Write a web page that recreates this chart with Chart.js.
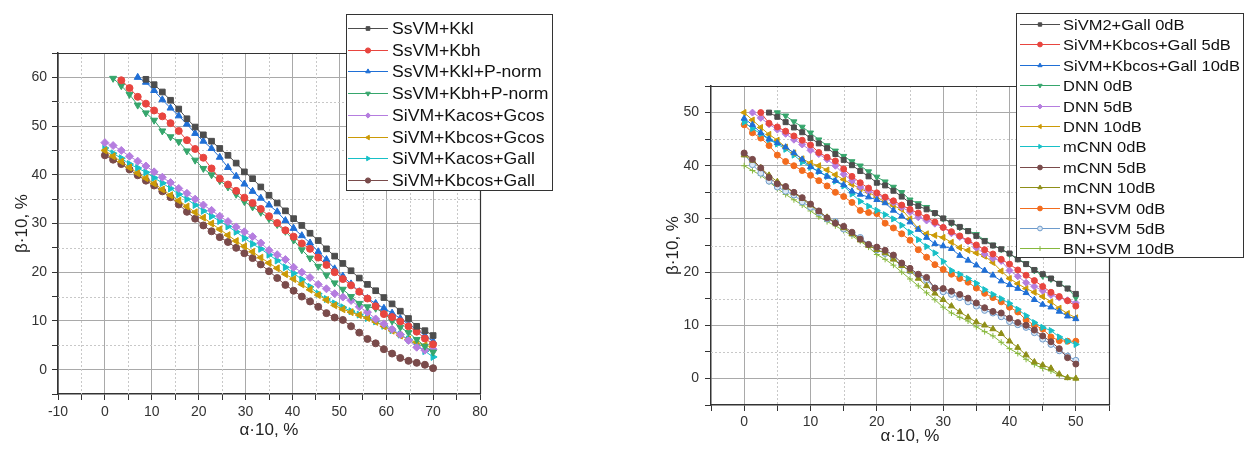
<!DOCTYPE html>
<html>
<head>
<meta charset="utf-8">
<script src="https://cdn.jsdelivr.net/npm/chart.js"></script>
<style>
  html, body { margin: 0; padding: 0; background: #fff; }
  #wrap { position: relative; width: 1247px; height: 453px; overflow: hidden; }
  canvas { position: absolute; top: 0; }
  #leftChart { left: 0; }
  #rightChart { left: 620px; }
</style>
</head>
<body>
<div id="wrap">
  <canvas id="leftChart" width="620" height="453"></canvas>
  <canvas id="rightChart" width="627" height="453"></canvas>
</div>
<script>
// ---- left panel: alpha*10 values and beta*10 per method ----
const leftAlpha = [0, 1.75, 3.5, 5.25, 7, 8.75, 10.5, 12.25, 14, 15.75, 17.5, 19.25, 21, 22.75, 24.5, 26.25, 28, 29.75, 31.5, 33.25, 35, 36.75, 38.5, 40.25, 42, 43.75, 45.5, 47.25, 49, 50.75, 52.5, 54.25, 56, 57.75, 59.5, 61.25, 63, 64.75, 66.5, 68.25, 70];

const ssvmKkl = [null, null, null, null, null, 59.6, 58.5, 57.0, 55.3, 53.5, 51.5, 49.8, 48.2, 46.9, 45.4, 44.0, 42.4, 40.6, 39.2, 37.5, 35.8, 34.2, 32.6, 31.0, 29.6, 28.0, 26.5, 24.8, 23.3, 21.8, 20.3, 18.8, 17.5, 16.2, 14.8, 13.5, 12.0, 10.5, 8.9, 8.0, 7.0];
const ssvmKbh = [null, null, 59.4, 57.8, 56.0, 54.6, 53.2, 52.0, 50.6, 49.0, 47.1, 45.3, 43.5, 41.3, 39.2, 38.0, 36.7, 35.3, 34.2, 33.0, 31.5, 30.1, 28.6, 27.3, 25.9, 24.8, 23.0, 21.5, 20.0, 18.6, 17.3, 16.0, 14.6, 13.0, 11.4, 10.8, 9.9, 8.9, 7.8, 6.4, 5.2];
const ssvmKklP = [null, null, null, null, 60.0, 59.0, 57.3, 55.4, 53.7, 52.1, 50.4, 48.5, 46.9, 45.4, 43.6, 41.5, 39.7, 38.1, 36.6, 35.2, 33.8, 32.4, 30.6, 29.0, 27.5, 26.0, 24.2, 22.6, 20.7, 19.2, 17.6, 16.0, 14.6, 13.6, 12.6, 11.6, 10.5, 9.3, 8.3, 7.0, 5.8];
const ssvmKbhP = [null, 59.8, 58.3, 56.5, 54.3, 52.7, 51.2, 49.0, 47.8, 46.8, 44.9, 43.0, 41.3, 40.0, 38.8, 37.5, 36.0, 34.5, 33.4, 32.3, 31.0, 29.8, 28.4, 26.6, 24.6, 22.9, 21.2, 19.4, 17.8, 16.5, 15.0, 13.6, 12.9, 12.6, 11.6, 10.0, 8.7, 7.6, 6.2, 4.8, 3.6];
const sivmKacosGcos = [46.6, 46.0, 45.0, 43.8, 42.8, 41.8, 40.6, 39.5, 38.4, 37.2, 36.2, 35.0, 33.8, 32.7, 31.5, 30.4, 29.3, 28.3, 27.3, 26.0, 24.5, 23.6, 22.6, 21.0, 20.0, 18.9, 17.5, 16.6, 15.6, 14.9, 14.2, 12.9, 11.8, 10.4, 9.4, 8.3, 7.2, 6.0, 4.6, 4.0, 4.2];
const sivmKbcosGcos = [45.0, 43.8, 42.7, 41.5, 40.3, 39.3, 38.2, 37.0, 35.8, 34.7, 33.5, 32.3, 31.2, 30.0, 28.8, 27.6, 26.4, 25.3, 24.2, 23.0, 21.9, 20.8, 19.6, 18.6, 17.5, 16.4, 15.3, 14.3, 13.2, 12.4, 11.8, 11.2, 10.6, 9.8, 8.9, 8.0, 7.0, 6.2, 5.6, 5.0, 4.6];
const sivmKacosGall = [45.5, 44.4, 43.4, 42.2, 41.4, 40.5, 39.4, 38.3, 37.2, 36.0, 35.0, 33.8, 32.6, 31.5, 30.5, 29.4, 28.3, 27.0, 25.8, 24.8, 23.6, 22.4, 21.0, 19.8, 18.5, 17.0, 15.6, 14.5, 13.6, 12.8, 12.0, 11.3, 10.6, 9.9, 9.0, 8.1, 7.2, 6.2, 5.0, 3.8, 2.6];
const sivmKbcosGall = [44.0, 43.1, 42.2, 41.1, 39.9, 38.8, 37.8, 36.6, 35.4, 33.9, 32.4, 31.0, 29.6, 28.4, 27.2, 26.2, 25.0, 23.9, 22.9, 21.6, 20.2, 18.8, 17.4, 16.2, 15.0, 14.0, 12.9, 11.6, 10.7, 10.2, 8.9, 7.6, 6.3, 5.4, 4.2, 3.3, 2.4, 1.8, 1.4, 1.0, 0.3];

// ---- right panel ----
const rightAlpha = [0, 1.25, 2.5, 3.75, 5, 6.25, 7.5, 8.75, 10, 11.25, 12.5, 13.75, 15, 16.25, 17.5, 18.75, 20, 21.25, 22.5, 23.75, 25, 26.25, 27.5, 28.75, 30, 31.25, 32.5, 33.75, 35, 36.25, 37.5, 38.75, 40, 41.25, 42.5, 43.75, 45, 46.25, 47.5, 48.75, 50];

const sivm2Gall0 = [null, null, null, 50.0, 49.2, 48.2, 47.2, 46.3, 45.2, 44.2, 43.3, 42.2, 41.1, 40.1, 39.0, 38.0, 36.8, 36.3, 35.3, 34.2, 33.0, 32.4, 31.8, 31.1, 30.1, 29.3, 28.5, 27.7, 26.8, 25.8, 25.0, 24.3, 23.5, 22.4, 21.5, 20.4, 19.6, 18.8, 17.8, 16.9, 15.9];
const sivmGall5 = [null, null, 50.0, 48.0, 47.3, 46.5, 45.6, 44.8, 43.9, 42.5, 41.6, 40.9, 39.4, 38.0, 36.8, 35.8, 34.9, 34.1, 33.4, 32.6, 31.8, 31.1, 30.3, 29.4, 28.4, 27.6, 26.8, 25.9, 25.1, 24.2, 23.4, 22.4, 21.5, 20.4, 19.4, 18.4, 17.3, 16.2, 15.4, 14.6, 13.6];
const sivmGall10 = [48.9, 47.7, 46.2, 45.0, 44.3, 43.5, 42.4, 41.2, 39.8, 38.9, 38.0, 37.2, 36.4, 35.2, 34.6, 34.1, 33.6, 33.0, 31.6, 30.5, 29.4, 28.0, 26.5, 25.3, 24.9, 24.4, 23.1, 22.2, 21.3, 20.3, 19.4, 18.3, 17.6, 16.9, 16.1, 14.8, 13.9, 13.4, 12.6, 11.7, 11.2];
const dnn0 = [null, null, null, null, 50.0, 49.4, 48.3, 47.3, 46.2, 44.9, 43.8, 42.8, 41.8, 40.8, 40.0, 38.9, 37.9, 37.0, 36.0, 35.0, 33.6, 32.9, 32.2, 31.1, 30.1, 29.2, 28.4, 27.8, 27.1, 26.0, 25.1, 24.3, 23.4, 22.5, 21.6, 20.3, 19.3, 18.7, 17.9, 17.0, 15.2];
const dnn5 = [null, 50.0, 49.0, 47.8, 46.8, 46.0, 44.9, 44.0, 42.9, 42.2, 41.2, 40.0, 38.4, 37.2, 36.0, 35.2, 34.6, 33.9, 33.1, 32.2, 31.3, 30.3, 29.7, 29.1, 28.4, 27.3, 26.6, 25.8, 24.6, 23.4, 22.6, 22.1, 20.3, 19.2, 18.0, 17.3, 16.5, 15.7, 15.2, 14.7, 14.2];
const dnn10 = [50.0, 48.6, 47.2, 45.9, 44.8, 43.5, 42.4, 41.3, 40.5, 40.0, 39.2, 38.3, 37.4, 36.5, 35.7, 35.0, 34.1, 33.2, 32.5, 31.8, 30.0, 28.2, 27.2, 26.9, 26.5, 25.6, 24.6, 24.1, 23.6, 23.0, 21.8, 20.2, 18.8, 17.8, 16.9, 16.2, 15.4, 14.4, 13.2, 12.2, 11.4];
const mcnn0 = [48.2, 47.0, 46.0, 44.9, 44.1, 43.1, 42.0, 40.7, 39.7, 38.9, 38.0, 37.1, 36.2, 34.7, 33.3, 32.4, 31.6, 30.8, 30.0, 28.8, 27.5, 26.1, 24.8, 23.6, 22.0, 20.3, 19.6, 18.8, 17.9, 16.7, 15.8, 15.0, 14.1, 13.0, 11.8, 10.5, 9.6, 9.0, 7.8, 7.0, 6.4];
const mcnn5 = [42.4, 41.2, 39.6, 37.8, 36.6, 36.1, 35.0, 34.0, 32.8, 31.5, 30.2, 29.2, 28.6, 27.5, 26.2, 25.2, 24.7, 24.1, 23.2, 21.7, 20.7, 19.6, 19.0, 17.0, 16.9, 16.4, 15.8, 15.1, 14.2, 13.3, 12.6, 12.3, 11.3, 10.5, 10.0, 9.1, 8.0, 6.9, 5.6, 3.9, 2.7];
const mcnn10 = [42.0, 41.0, 39.6, 38.2, 37.0, 36.0, 34.9, 33.8, 32.6, 31.4, 30.3, 29.3, 28.3, 27.2, 26.0, 25.0, 24.2, 23.6, 22.4, 21.2, 20.2, 18.8, 17.4, 16.0, 14.8, 13.6, 12.5, 11.5, 10.6, 10.0, 9.3, 8.4, 7.0, 5.8, 4.4, 3.1, 2.5, 1.9, 0.8, 0.1, 0.0];
const bnSvm0 = [47.7, 46.2, 45.2, 43.8, 42.0, 40.8, 40.0, 39.1, 38.2, 37.2, 36.2, 35.0, 34.2, 33.1, 31.6, 31.2, 31.0, 29.2, 28.3, 27.2, 26.0, 24.2, 22.8, 21.4, 20.5, 19.6, 18.8, 18.1, 17.0, 16.0, 15.2, 14.4, 13.4, 12.5, 11.0, 10.0, 9.3, 7.8, 7.1, 7.0, 7.0];
const bnSvm5 = [42.2, 40.2, 38.6, 37.1, 36.0, 35.2, 34.5, 33.2, 32.2, 31.2, 30.0, 29.5, 28.1, 27.3, 26.5, 25.2, 24.2, 23.5, 22.6, 21.3, 20.2, 19.4, 18.5, 17.0, 16.3, 15.8, 15.2, 14.4, 13.6, 12.8, 12.3, 11.6, 10.7, 10.1, 9.6, 8.6, 7.4, 6.4, 5.2, 4.2, 3.4];
const bnSvm10 = [40.0, 39.1, 38.2, 37.0, 35.7, 34.6, 33.6, 32.6, 31.5, 30.4, 29.5, 28.7, 27.8, 26.8, 25.8, 24.7, 23.3, 22.4, 21.3, 20.0, 18.7, 17.4, 16.1, 14.8, 13.4, 12.3, 11.5, 10.8, 9.7, 8.8, 8.0, 6.8, 5.6, 4.7, 3.6, 2.6, 1.9, 1.4, 0.6, 0.2, 0.0];

const FONT = "'Liberation Sans', Arial, sans-serif";

function makeSet(label, xs, ys, color, style, radius, extra) {
  const data = xs.map((x, i) => ({ x: x, y: ys[i] })).filter(p => p.y !== null);
  return Object.assign({
    label: label,
    data: data,
    borderColor: color,
    backgroundColor: color,
    borderWidth: 1,
    pointStyle: style,
    pointRadius: radius,
    pointRotation: 0,
    pointBackgroundColor: color,
    pointBorderColor: color,
    pointBorderWidth: 1,
    tension: 0,
    fill: false
  }, extra || {});
}

// dotted minor grid + top/right frame
const minorGrid = {
  id: 'minorGrid',
  beforeDatasetsDraw(chart) {
    const { ctx, chartArea: a, scales } = chart;
    const x = scales.x, y = scales.y;
    ctx.save();
    ctx.strokeStyle = '#c8c8c8';
    ctx.lineWidth = 1;
    ctx.setLineDash([2, 2]);
    x.ticks.forEach(t => {
      if (t.value % 10 === 0) return;
      const px = Math.round(x.getPixelForValue(t.value)) + 0.5;
      if (px <= a.left + 1 || px >= a.right - 1) return;
      ctx.beginPath(); ctx.moveTo(px, a.top); ctx.lineTo(px, a.bottom); ctx.stroke();
    });
    y.ticks.forEach(t => {
      if (t.value % 10 === 0) return;
      const py = Math.round(y.getPixelForValue(t.value)) + 0.5;
      if (py <= a.top + 1 || py >= a.bottom - 1) return;
      ctx.beginPath(); ctx.moveTo(a.left, py); ctx.lineTo(a.right, py); ctx.stroke();
    });
    ctx.setLineDash([]);
    ctx.strokeStyle = '#333';
    ctx.lineWidth = 1.2;
    ctx.beginPath();
    ctx.moveTo(a.left, a.top + 0.5); ctx.lineTo(a.right + 0.5, a.top + 0.5); ctx.lineTo(a.right + 0.5, a.bottom);
    ctx.stroke();
    ctx.restore();
  }
};

// framed legend placed over the plot
const boxLegend = {
  id: 'boxLegend',
  afterDraw(chart, args, o) {
    const ctx = chart.ctx;
    ctx.save();
    ctx.fillStyle = '#fff';
    ctx.fillRect(o.x, o.y, o.w, o.h);
    ctx.strokeStyle = '#333';
    ctx.lineWidth = 1;
    ctx.strokeRect(o.x + 0.5, o.y + 0.5, o.w, o.h);
    ctx.font = o.font;
    ctx.textBaseline = 'middle';
    chart.data.datasets.forEach((ds, i) => {
      const cy = Math.round(o.firstY + i * o.rowH) + 0.5;
      ctx.strokeStyle = ds.borderColor;
      ctx.lineWidth = 1;
      ctx.beginPath(); ctx.moveTo(o.lineX0, cy); ctx.lineTo(o.lineX1, cy); ctx.stroke();
      ctx.fillStyle = ds.pointBackgroundColor;
      ctx.strokeStyle = ds.pointBorderColor;
      Chart.helpers.drawPoint(ctx, {
        pointStyle: ds.pointStyle, radius: o.marker, rotation: ds.pointRotation || 0, borderWidth: 1
      }, (o.lineX0 + o.lineX1) / 2, cy);
      // reference text is a little wider than the font, so stretch it sideways
      ctx.save();
      ctx.translate(o.textX, cy + 1);
      ctx.scale(o.stretch, 1);
      ctx.fillStyle = '#111';
      ctx.fillText(ds.label, 0, 0);
      ctx.restore();
    });
    ctx.restore();
  }
};

function axis(min, max, title, titlePad, size, labelPad, horizontal) {
  return {
    type: 'linear',
    min: min,
    max: max,
    afterFit: s => { if (horizontal) s.height = size; else s.width = size; },
    ticks: {
      stepSize: 5,
      autoSkip: false,
      maxRotation: 0,
      padding: labelPad,
      color: '#333',
      font: { family: FONT, size: 14 },
      callback: v => (v % 10 === 0 ? String(v) : '')
    },
    grid: {
      color: c => (c.tick && c.tick.value % 10 === 0) ? '#a9a9a9' : 'rgba(0,0,0,0)',
      lineWidth: 1,
      tickColor: '#333',
      tickLength: 6,
      drawTicks: true
    },
    border: { color: '#333', width: 1.5 },
    title: {
      display: true,
      text: title,
      color: '#222',
      font: { family: FONT, size: 17 },
      padding: titlePad
    }
  };
}

function baseOptions(pad, xAxis, yAxis, legendOpts) {
  return {
    responsive: false,
    animation: false,
    devicePixelRatio: 1,
    events: [],
    layout: { padding: pad },
    scales: { x: xAxis, y: yAxis },
    plugins: {
      legend: { display: false },
      tooltip: { enabled: false },
      boxLegend: legendOpts
    }
  };
}

// ---- left chart ----
const R1 = 3.5;
new Chart(document.getElementById('leftChart'), {
  type: 'line',
  data: {
    datasets: [
      makeSet('SsVM+Kkl', leftAlpha, ssvmKkl, '#4d4d4d', 'rect', R1 + 0.5),
      makeSet('SsVM+Kbh', leftAlpha, ssvmKbh, '#e8453f', 'circle', R1),
      makeSet('SsVM+Kkl+P-norm', leftAlpha, ssvmKklP, '#1f6fd6', 'triangle', R1 + 0.5),
      makeSet('SsVM+Kbh+P-norm', leftAlpha, ssvmKbhP, '#36a66c', 'triangle', R1 + 0.5, { pointRotation: 180 }),
      makeSet('SiVM+Kacos+Gcos', leftAlpha, sivmKacosGcos, '#b57ddf', 'rectRot', R1 + 0.5),
      makeSet('SiVM+Kbcos+Gcos', leftAlpha, sivmKbcosGcos, '#cc9a06', 'triangle', R1 + 0.5, { pointRotation: -90 }),
      makeSet('SiVM+Kacos+Gall', leftAlpha, sivmKacosGall, '#17c0c7', 'triangle', R1 + 0.5, { pointRotation: 90 }),
      makeSet('SiVM+Kbcos+Gall', leftAlpha, sivmKbcosGall, '#7a4b4b', 'circle', R1)
    ]
  },
  options: baseOptions(
    { left: 0, right: 140, top: 53, bottom: 0 },
    axis(-10, 80, 'α·10, %', { top: 0, bottom: 12 }, 59, 4, true),
    axis(-5, 65, 'β·10, %', { top: 12, bottom: 0 }, 58, 5, false),
    { x: 346, y: 14, w: 206, h: 176, firstY: 28, rowH: 21.7, lineX0: 348, lineX1: 388, textX: 392, marker: 2.6, stretch: 1.1, font: '16px ' + FONT }
  ),
  plugins: [minorGrid, boxLegend]
});

// ---- right chart ----
const R2 = 3;
new Chart(document.getElementById('rightChart'), {
  type: 'line',
  data: {
    datasets: [
      makeSet('SiVM2+Gall 0dB', rightAlpha, sivm2Gall0, '#4d4d4d', 'rect', R2 + 0.5),
      makeSet('SiVM+Kbcos+Gall 5dB', rightAlpha, sivmGall5, '#e8453f', 'circle', R2),
      makeSet('SiVM+Kbcos+Gall 10dB', rightAlpha, sivmGall10, '#1f6fd6', 'triangle', R2 + 0.5),
      makeSet('DNN 0dB', rightAlpha, dnn0, '#36a66c', 'triangle', R2 + 0.5, { pointRotation: 180 }),
      makeSet('DNN 5dB', rightAlpha, dnn5, '#b57ddf', 'rectRot', R2 + 0.5),
      makeSet('DNN 10dB', rightAlpha, dnn10, '#cc9a06', 'triangle', R2 + 0.5, { pointRotation: -90 }),
      makeSet('mCNN 0dB', rightAlpha, mcnn0, '#17c0c7', 'triangle', R2 + 0.5, { pointRotation: 90 }),
      makeSet('mCNN 5dB', rightAlpha, mcnn5, '#7a4b4b', 'circle', R2),
      makeSet('mCNN 10dB', rightAlpha, mcnn10, '#8f8f18', 'triangle', R2 + 0.5),
      makeSet('BN+SVM 0dB', rightAlpha, bnSvm0, '#f36c1e', 'circle', R2),
      makeSet('BN+SVM 5dB', rightAlpha, bnSvm5, '#6d9bcc', 'circle', R2, { pointBackgroundColor: '#dbe7f4' }),
      makeSet('BN+SVM 10dB', rightAlpha, bnSvm10, '#86b83c', 'cross', R2)
    ]
  },
  options: baseOptions(
    { left: 0, right: 138, top: 86, bottom: 0 },
    axis(-5, 55, 'α·10, %', { top: 0, bottom: 6 }, 48, 3, true),
    axis(-5, 55, 'β·10, %', { top: 43, bottom: 0 }, 91, 6, false),
    { x: 396, y: 13, w: 227, h: 244, firstY: 24, rowH: 20.4, lineX0: 400, lineX1: 440, textX: 443, marker: 2.4, stretch: 1.1, font: '15px ' + FONT }
  ),
  plugins: [minorGrid, boxLegend]
});
</script>
</body>
</html>
